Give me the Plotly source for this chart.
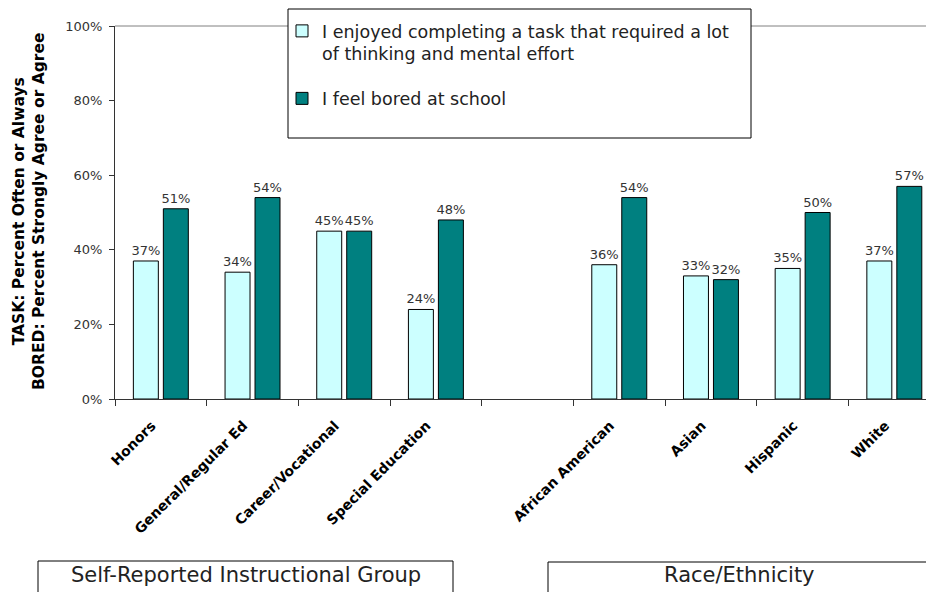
import plotly.graph_objects as go

categories = ["Honors", "General/Regular Ed", "Career/Vocational", "Special Education",
              "African American", "Asian", "Hispanic", "White"]
positions = [0, 1, 2, 3, 5, 6, 7, 8]
task_values = [37, 34, 45, 24, 36, 33, 35, 37]
bored_values = [51, 54, 45, 48, 54, 32, 50, 57]
series_names = ["I enjoyed completing a task that required a lot<br>of thinking and mental effort",
                "I feel bored at school<br> "]
y_ticks = [0, 20, 40, 60, 80, 100]
y_tick_labels = ["0%", "20%", "40%", "60%", "80%", "100%"]
group_labels = ["Self-Reported Instructional Group", "Race/Ethnicity"]
y_title = "TASK: Percent Often or Always<br>BORED: Percent Strongly Agree or Agree"

W, H = 934, 592
OFF = 8  # page offset of the figure inside the browser window
L, R, T, B = 107, 0, 18, 201
PW = W - L - R
PH = H - T - B
LABEL_SHIFT = -0.1  # rotated category labels sit slightly left of the bar pair


def px(x):
    # screen x -> paper x
    return (x - OFF - L) / PW


def py(y):
    # screen y -> paper y
    return (H - B - (y - OFF)) / PH


FONT = "DejaVu Sans"
fig = go.Figure()
fig.add_trace(go.Bar(
    x=positions, y=task_values, name=series_names[0], legendgroup="a",
    marker=dict(color="#CCFFFF", line=dict(color="#000000", width=1)),
    text=[f"{v}%" for v in task_values], textposition="outside", constraintext="none",
    textfont=dict(family=FONT, size=13, color="#333333"), cliponaxis=False,
))
fig.add_trace(go.Bar(
    x=positions, y=bored_values, name=series_names[1], legendgroup="b",
    marker=dict(color="#008080", line=dict(color="#000000", width=1)),
    text=[f"{v}%" for v in bored_values], textposition="outside", constraintext="none",
    textfont=dict(family=FONT, size=13, color="#333333"), cliponaxis=False,
))

shapes = []
shapes.append(dict(type="line", xref="paper", yref="paper", x0=0, x1=1, y0=1, y1=1,
                   line=dict(color="#808080", width=1), layer="below"))
shapes.append(dict(type="rect", xref="paper", yref="paper",
                   x0=px(288), x1=px(751), y0=py(138), y1=py(9),
                   fillcolor="white", line=dict(color="#000000", width=1), layer="above"))
shapes.append(dict(type="rect", xref="paper", yref="paper",
                   x0=px(38), x1=px(453), y0=py(640), y1=py(561),
                   fillcolor="rgba(0,0,0,0)", line=dict(color="#000000", width=1)))
shapes.append(dict(type="rect", xref="paper", yref="paper",
                   x0=px(548), x1=px(930), y0=py(640), y1=py(562),
                   fillcolor="rgba(0,0,0,0)", line=dict(color="#000000", width=1)))

annotations = [
    dict(text=group_labels[0], xref="paper", yref="paper", x=px(246), y=py(575),
         showarrow=False, font=dict(family=FONT, size=21, color="#222222"),
         xanchor="center", yanchor="middle"),
    dict(text=group_labels[1], xref="paper", yref="paper", x=px(739), y=py(575),
         showarrow=False, font=dict(family=FONT, size=21, color="#222222"),
         xanchor="center", yanchor="middle"),
    dict(text=y_title, xref="paper", yref="paper", x=px(29), y=py(212),
         showarrow=False, textangle=-90, xanchor="center", yanchor="middle",
         font=dict(family=FONT, size=15.5, color="#000000", weight="bold")),
]

fig.update_layout(
    width=W, height=H,
    margin=dict(l=L, r=R, t=T, b=B, pad=0),
    paper_bgcolor="white", plot_bgcolor="white",
    barmode="group", bargap=0.346, bargroupgap=0.167,
    showlegend=True,
    legend=dict(x=px(282), y=py(13), xanchor="left", yanchor="top",
                bgcolor="rgba(0,0,0,0)", borderwidth=0,
                font=dict(family=FONT, size=17.5, color="#222222"),
                valign="top", tracegroupgap=19, traceorder="grouped"),
    shapes=shapes,
    annotations=annotations,
    xaxis=dict(
        range=[-0.5, 8.52], tickmode="array",
        tickvals=[p + LABEL_SHIFT for p in positions], ticktext=categories,
        tickangle=-45, ticks="", showgrid=False, zeroline=False,
        showline=True, linecolor="#333333", linewidth=1,
        tickfont=dict(family=FONT, size=14, color="#000000", weight="bold"),
        ticklabelstandoff=12,
        minor=dict(tickmode="array", tickvals=[-0.5, 0.5, 1.5, 2.5, 3.5, 4.5, 5.5, 6.5, 7.5],
                   ticks="outside", ticklen=6, tickcolor="#333333", tickwidth=1),
    ),
    yaxis=dict(
        range=[0, 100], tickmode="array", tickvals=y_ticks, ticktext=y_tick_labels,
        ticks="outside", ticklen=5, tickcolor="#333333", ticklabelstandoff=4,
        showgrid=False, zeroline=False, showline=True, linecolor="#333333", linewidth=1,
        tickfont=dict(family=FONT, size=13, color="#333333"),
    ),
)

fig.write_html("out.html")
